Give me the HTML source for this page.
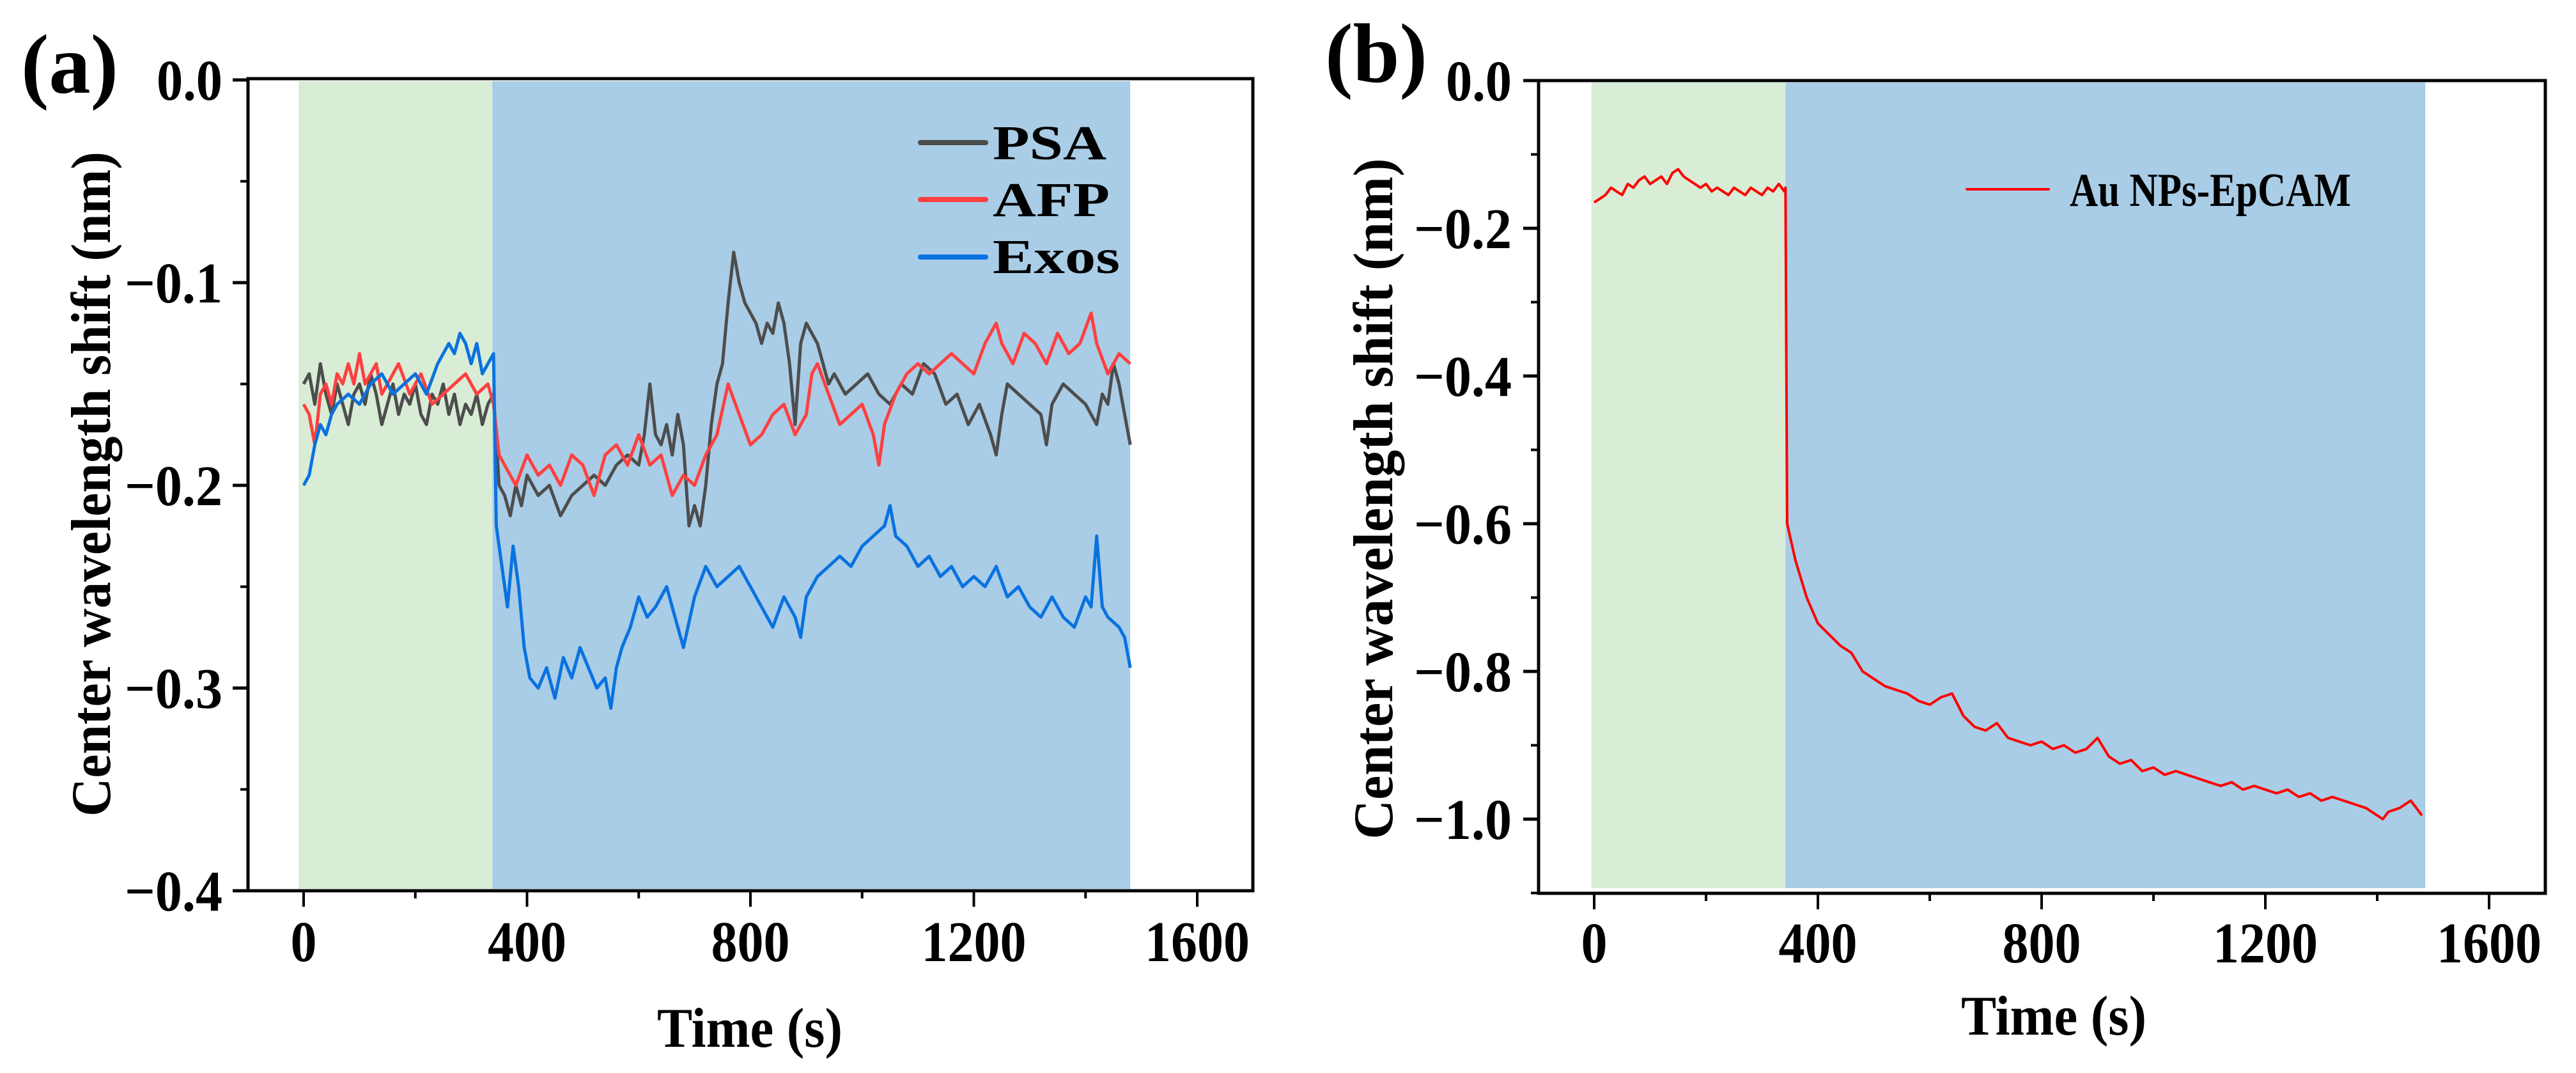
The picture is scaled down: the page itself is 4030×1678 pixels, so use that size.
<!DOCTYPE html>
<html><head><meta charset="utf-8"><style>
html,body{margin:0;padding:0;background:#fff;}
svg{display:block;}
text{font-family:"Liberation Serif",serif;font-weight:bold;fill:#000;}
</style></head>
<body>
<svg id="fig" width="4030" height="1678" viewBox="0 0 4030 1678" xmlns="http://www.w3.org/2000/svg">
<g id="pa"></g>
<g id="pb"></g>
</svg>
<script>
// ---- Panel (a) data ----
const psaT = [0,10,20,30,40,50,60,70,80,90,100,110,120,130,140,150,160,170,180,190,200,210,220,230,240,250,260,270,280,290,300,310,320,330,340,350,360,370,380,390,400,420,440,460,480,500,520,540,560,580,600,610,620,630,640,650,660,670,680,690,700,710,720,730,740,750,760,770,780,790,800,810,820,830,840,850,860,870,880,890,900,910,920,930,940,950,970,990,1010,1030,1050,1070,1090,1110,1130,1150,1170,1190,1210,1230,1240,1250,1260,1280,1300,1320,1330,1340,1360,1380,1400,1420,1430,1440,1450,1460,1470,1480];
const psaV = [-0.15,-0.145,-0.16,-0.14,-0.155,-0.165,-0.15,-0.16,-0.17,-0.155,-0.15,-0.16,-0.145,-0.155,-0.17,-0.16,-0.15,-0.165,-0.155,-0.16,-0.15,-0.165,-0.17,-0.155,-0.16,-0.15,-0.165,-0.155,-0.17,-0.16,-0.165,-0.155,-0.17,-0.16,-0.155,-0.2,-0.205,-0.215,-0.2,-0.21,-0.195,-0.205,-0.2,-0.215,-0.205,-0.2,-0.195,-0.2,-0.19,-0.185,-0.19,-0.175,-0.15,-0.175,-0.18,-0.17,-0.185,-0.165,-0.18,-0.22,-0.21,-0.22,-0.2,-0.17,-0.15,-0.14,-0.11,-0.085,-0.1,-0.11,-0.115,-0.12,-0.13,-0.12,-0.125,-0.11,-0.12,-0.14,-0.17,-0.13,-0.12,-0.125,-0.13,-0.14,-0.15,-0.145,-0.155,-0.15,-0.145,-0.155,-0.16,-0.15,-0.155,-0.14,-0.145,-0.16,-0.155,-0.17,-0.16,-0.175,-0.185,-0.165,-0.15,-0.155,-0.16,-0.165,-0.18,-0.16,-0.15,-0.155,-0.16,-0.17,-0.155,-0.16,-0.14,-0.15,-0.165,-0.18];
const afpT = [0,10,20,30,40,50,60,70,80,90,100,110,120,130,140,150,170,190,210,230,250,270,290,310,330,340,350,360,380,400,420,440,460,480,500,520,540,560,580,600,620,640,660,680,700,720,740,760,780,800,820,840,860,880,900,910,920,940,960,980,1000,1020,1030,1040,1060,1080,1100,1120,1140,1160,1180,1200,1220,1240,1250,1270,1290,1310,1330,1350,1370,1390,1410,1420,1440,1460,1480];
const afpV = [-0.16,-0.165,-0.18,-0.155,-0.15,-0.16,-0.145,-0.15,-0.14,-0.15,-0.135,-0.15,-0.145,-0.14,-0.155,-0.15,-0.14,-0.155,-0.145,-0.16,-0.155,-0.15,-0.145,-0.155,-0.15,-0.16,-0.185,-0.19,-0.2,-0.185,-0.195,-0.19,-0.2,-0.185,-0.19,-0.205,-0.185,-0.18,-0.19,-0.175,-0.19,-0.185,-0.205,-0.195,-0.2,-0.185,-0.175,-0.15,-0.165,-0.18,-0.175,-0.165,-0.16,-0.175,-0.165,-0.145,-0.14,-0.155,-0.17,-0.165,-0.16,-0.175,-0.19,-0.17,-0.155,-0.145,-0.14,-0.145,-0.14,-0.135,-0.14,-0.145,-0.13,-0.12,-0.13,-0.14,-0.125,-0.13,-0.14,-0.125,-0.135,-0.13,-0.115,-0.13,-0.145,-0.135,-0.14];
const exoT = [0,10,20,30,40,50,60,80,100,120,140,160,180,200,220,240,260,270,280,290,300,310,320,330,340,345,355,365,375,385,395,405,420,435,450,465,480,495,510,525,540,550,560,570,585,600,615,630,650,665,680,700,720,740,760,780,800,820,840,860,880,890,900,920,940,960,980,1000,1020,1040,1050,1060,1080,1100,1120,1140,1160,1180,1200,1220,1240,1260,1280,1300,1320,1340,1360,1380,1400,1410,1420,1430,1440,1460,1470,1480];
const exoV = [-0.2,-0.195,-0.18,-0.17,-0.175,-0.165,-0.16,-0.155,-0.16,-0.15,-0.145,-0.155,-0.15,-0.145,-0.155,-0.14,-0.13,-0.135,-0.125,-0.13,-0.14,-0.13,-0.145,-0.14,-0.135,-0.22,-0.24,-0.26,-0.23,-0.25,-0.28,-0.295,-0.3,-0.29,-0.305,-0.285,-0.295,-0.28,-0.29,-0.3,-0.295,-0.31,-0.29,-0.28,-0.27,-0.255,-0.265,-0.26,-0.25,-0.265,-0.28,-0.255,-0.24,-0.25,-0.245,-0.24,-0.25,-0.26,-0.27,-0.255,-0.265,-0.275,-0.255,-0.245,-0.24,-0.235,-0.24,-0.23,-0.225,-0.22,-0.21,-0.225,-0.23,-0.24,-0.235,-0.245,-0.24,-0.25,-0.245,-0.25,-0.24,-0.255,-0.25,-0.26,-0.265,-0.255,-0.265,-0.27,-0.255,-0.26,-0.225,-0.26,-0.265,-0.27,-0.275,-0.29];
// ---- Panel (b) data ----
const epT = [0,10,20,30,40,50,60,70,80,90,100,110,120,130,140,150,160,170,180,190,200,210,220,230,240,250,260,270,280,290,300,310,320,330,340,342,345,360,380,400,420,440,460,480,500,520,540,560,580,600,620,640,660,680,700,720,740,760,780,800,820,840,860,880,900,920,940,960,980,1000,1020,1040,1060,1080,1100,1120,1140,1160,1180,1200,1220,1240,1260,1280,1300,1320,1340,1360,1380,1400,1410,1420,1440,1460,1480];
const epV = [-0.165,-0.16,-0.155,-0.145,-0.15,-0.155,-0.14,-0.145,-0.135,-0.13,-0.14,-0.135,-0.13,-0.14,-0.125,-0.12,-0.13,-0.135,-0.14,-0.145,-0.14,-0.15,-0.145,-0.15,-0.155,-0.145,-0.15,-0.155,-0.145,-0.15,-0.155,-0.145,-0.15,-0.14,-0.15,-0.145,-0.6,-0.65,-0.7,-0.735,-0.75,-0.765,-0.775,-0.8,-0.81,-0.82,-0.825,-0.83,-0.84,-0.845,-0.835,-0.83,-0.86,-0.875,-0.88,-0.87,-0.89,-0.895,-0.9,-0.895,-0.905,-0.9,-0.91,-0.905,-0.89,-0.915,-0.925,-0.92,-0.935,-0.93,-0.94,-0.935,-0.94,-0.945,-0.95,-0.955,-0.95,-0.96,-0.955,-0.96,-0.965,-0.96,-0.97,-0.965,-0.975,-0.97,-0.975,-0.98,-0.985,-0.995,-1.0,-0.99,-0.985,-0.975,-0.995];
const aXTicks = [0,400,800,1200,1600];
const aYTicks = [0,-0.1,-0.2,-0.3,-0.4];
const aYLabels = ["0.0","\u22120.1","\u22120.2","\u22120.3","\u22120.4"];
const bXTicks = [0,400,800,1200,1600];
const bYTicks = [0,-0.2,-0.4,-0.6,-0.8,-1.0];
const bYLabels = ["0.0","\u22120.2","\u22120.4","\u22120.6","\u22120.8","\u22121.0"];

const NS = "http://www.w3.org/2000/svg";
function mk(parent, tag, attrs, txt){
  const e = document.createElementNS(NS, tag);
  for (const k in attrs) e.setAttribute(k, attrs[k]);
  if (txt !== undefined) e.textContent = txt;
  parent.appendChild(e);
  return e;
}

function panel(g, cfg){
  const X = t => cfg.x0 + t*cfg.kx;
  const Y = v => cfg.y0 - v*cfg.ky;
  let r = mk(g,'rect',{x:X(cfg.gs),y:cfg.bgTop,width:X(cfg.bs)-X(cfg.gs),height:cfg.bgBot-cfg.bgTop,fill:'#d9edd6'});
  
  
  r = mk(g,'rect',{x:X(cfg.bs),y:cfg.bgTop,width:X(cfg.be)-X(cfg.bs),height:cfg.bgBot-cfg.bgTop,fill:'#a9cde6'});
  
  
  cfg.series.forEach(s=>{
    const d = s.t.map((t,i)=>(i?'L':'M')+X(t).toFixed(1)+' '+Y(s.v[i]).toFixed(1)).join(' ');
    const p = mk(g,'path',{d:d,fill:'none',stroke:s.color,'stroke-width':s.w,'stroke-linejoin':'round'});
    
    
  });
  const f = mk(g,'rect',{x:cfg.L,y:cfg.T,width:cfg.R-cfg.L,height:cfg.B-cfg.T,fill:'none',stroke:'#000','stroke-width':5});
  
  
  cfg.yTicks.forEach((v,i)=>{
    const y = Y(v);
    mk(g,'line',{x1:cfg.L-24,x2:cfg.L,y1:y,y2:y,stroke:'#000','stroke-width':5});
    const t = mk(g,'text',{x:cfg.yLabR,y:y+31,'text-anchor':'end','font-size':90,textLength:cfg.yLabels[i].length>3?153:103,lengthAdjust:'spacingAndGlyphs'},cfg.yLabels[i]);
    
    
  });
  cfg.yMinor.forEach(v=>{const y=Y(v); mk(g,'line',{x1:cfg.L-12,x2:cfg.L,y1:y,y2:y,stroke:'#000','stroke-width':4});});
  cfg.xTicks.forEach(v=>{
    const x = X(v);
    mk(g,'line',{x1:x,x2:x,y1:cfg.B,y2:cfg.B+25,stroke:'#000','stroke-width':4});
    const s = String(v);
    const t = mk(g,'text',{x:x,y:cfg.xLabY,'text-anchor':'middle','font-size':90,textLength:s.length*41,lengthAdjust:'spacingAndGlyphs'},s);
    
    
  });
  [200,600,1000,1400].forEach(v=>{const x=X(v); mk(g,'line',{x1:x,x2:x,y1:cfg.B,y2:cfg.B+12,stroke:'#000','stroke-width':4});});
  let t = mk(g,'text',{x:cfg.xtX,y:cfg.xtY,'text-anchor':'middle','font-size':88,textLength:290,lengthAdjust:'spacingAndGlyphs'},'Time (s)');
  
  
  t = mk(g,'text',{x:0,y:0,'text-anchor':'middle','font-size':88,textLength:cfg.ytLen,lengthAdjust:'spacingAndGlyphs',transform:`translate(${cfg.ytX},${cfg.ytY}) rotate(-90)`},'Center wavelength shift (nm)');
  
  
  t = mk(g,'text',{x:cfg.plX,y:cfg.plY,'font-size':132,textLength:cfg.plLen,lengthAdjust:'spacingAndGlyphs'},cfg.pl);
  
  
  cfg.legend.forEach(l=>{
    const ln = mk(g,'line',{x1:l.x1,x2:l.x2,y1:l.y,y2:l.y,stroke:l.color,'stroke-width':l.w,'stroke-linecap':'round'});
    
    
    const tx = mk(g,'text',{x:l.tx,y:l.ty,'font-size':l.fs,textLength:l.len,lengthAdjust:'spacingAndGlyphs'},l.label);
    
    
  });
}

panel(document.getElementById('pa'),{
  x0:475,kx:0.87375,y0:125,ky:3170,
  L:388,R:1960,T:123,B:1393,bgTop:127,bgBot:1390,gs:-9,bs:338,be:1480,
  yTicks:aYTicks,yLabels:aYLabels,yMinor:[-0.05,-0.15,-0.25,-0.35],yLabR:348,
  xTicks:aXTicks,xLabY:1503,xtX:1173,xtY:1637,ytX:172,ytY:757,ytLen:1040,
  pl:'(a)',plX:33,plY:145,plLen:152,
  series:[
    {name:'psa-line',t:psaT,v:psaV,color:'#4d4d4d',w:5},
    {name:'afp-line',t:afpT,v:afpV,color:'#ff4040',w:5},
    {name:'exos-line',t:exoT,v:exoV,color:'#0a72e0',w:5}
  ],
  legend:[
    {x1:1440,x2:1542,y:223,color:'#4d4d4d',w:8,tx:1553,ty:249,fs:76,len:178,label:'PSA'},
    {x1:1440,x2:1542,y:312,color:'#ff4040',w:8,tx:1553,ty:338,fs:76,len:183,label:'AFP'},
    {x1:1440,x2:1542,y:402,color:'#0a72e0',w:8,tx:1553,ty:427,fs:76,len:199,label:'Exos'}
  ]
});
panel(document.getElementById('pb'),{
  x0:2494,kx:0.875,y0:126,ky:1155,
  L:2407,R:3982,T:126,B:1397,bgTop:129,bgBot:1389,gs:-5,bs:342,be:1486,
  yTicks:bYTicks,yLabels:bYLabels,yMinor:[-0.1,-0.3,-0.5,-0.7,-0.9,-1.1],yLabR:2365,
  xTicks:bXTicks,xLabY:1505,xtX:3213,xtY:1618,ytX:2178,ytY:780,ytLen:1065,
  pl:'(b)',plX:2073,plY:128,plLen:160,
  series:[{name:'au-nps-epcam-line',t:epT,v:epV,color:'#ff0000',w:4}],
  legend:[{x1:3077,x2:3205,y:296,color:'#ff0000',w:4,tx:3238,ty:322,fs:74,len:440,label:'Au NPs-EpCAM'}]
});
</script>
</body></html>
